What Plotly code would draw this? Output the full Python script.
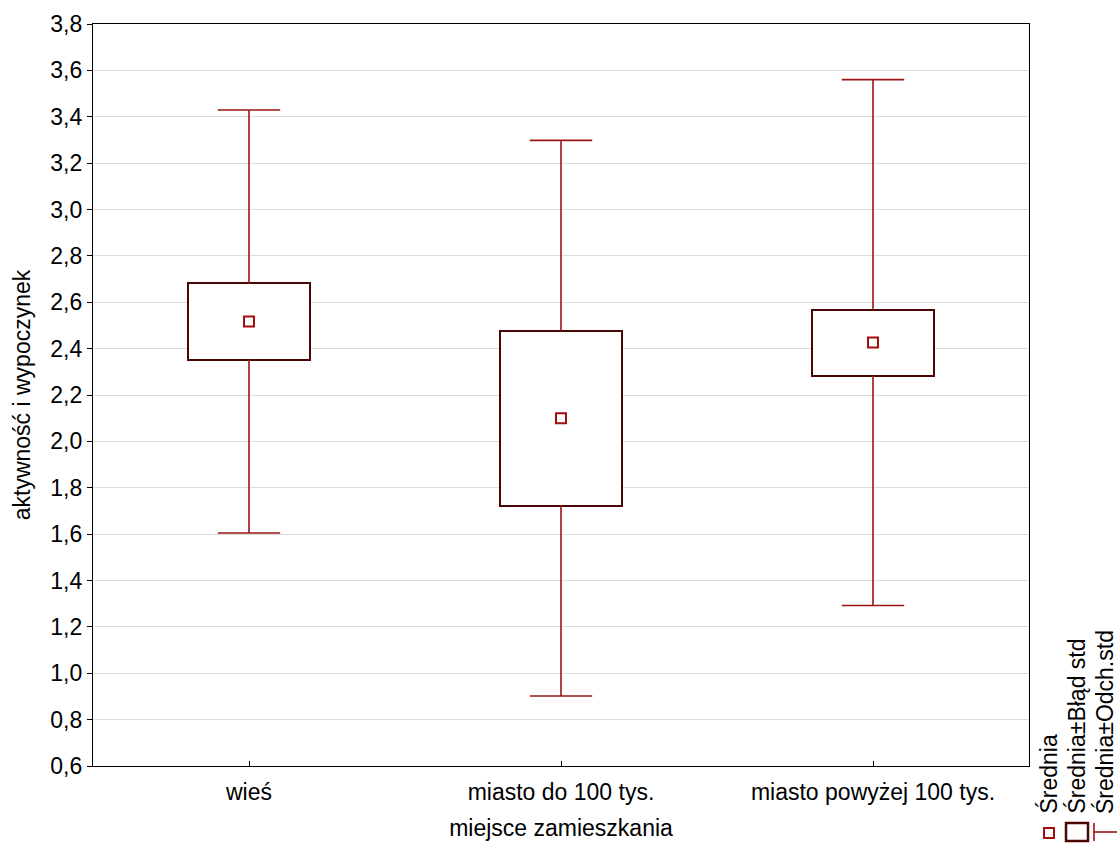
import plotly.graph_objects as go

categories = ["wieś", "miasto do 100 tys.", "miasto powyżej 100 tys."]
means = [2.517, 2.100, 2.426]
std_err = [0.164, 0.377, 0.142]
std_dev = [0.912, 1.198, 1.134]

y_ticks = [0.6, 0.8, 1.0, 1.2, 1.4, 1.6, 1.8, 2.0, 2.2, 2.4, 2.6, 2.8, 3.0, 3.2, 3.4, 3.6, 3.8]

FONT = "Liberation Sans, Arial, sans-serif"
FS = 23
WHISK = "#9a1515"
BOXC = "#4a0505"
MEANC = "#a30d0d"

idx = list(range(len(categories)))
cap = 0.1
box_w = 0.394

# whisker segments (outside the box) with caps
wx, wy = [], []
for i, m, se, sd in zip(idx, means, std_err, std_dev):
    wx += [i, i, None, i - cap, i + cap, None]
    wy += [m + se, m + sd, None, m + sd, m + sd, None]
    wx += [i, i, None, i - cap, i + cap, None]
    wy += [m - se, m - sd, None, m - sd, m - sd, None]

fig = go.Figure()

fig.add_trace(go.Bar(
    x=idx,
    y=[2 * se for se in std_err],
    base=[m - se for m, se in zip(means, std_err)],
    width=box_w,
    marker=dict(color="white", line=dict(color=BOXC, width=2)),
    showlegend=False, hoverinfo="skip",
))

fig.add_trace(go.Scatter(
    x=wx, y=wy, mode="lines",
    line=dict(color=WHISK, width=1.6),
    showlegend=False, hoverinfo="skip",
))

fig.add_trace(go.Scatter(
    x=idx, y=means, mode="markers",
    marker=dict(symbol="square", size=10, color="white",
                line=dict(color=MEANC, width=2)),
    showlegend=False,
))

W, H = 1117, 843
pl_l, pl_r, pl_t, pl_b = 93, 1029, 24, 766

def px_x(p):
    return (p - pl_l) / (pl_r - pl_l)

def px_y(p):
    return (pl_b - p) / (pl_b - pl_t)

# custom vertical legend (bottom right)
legend_items = ["Średnia", "Średnia±Błąd std", "Średnia±Odch.std"]
leg_x_px = [1048, 1076, 1104]

annotations = []
for txt, xp in zip(legend_items, leg_x_px):
    annotations.append(dict(
        text=txt, textangle=-90, xref="paper", yref="paper",
        x=px_x(xp), y=px_y(816), xanchor="center", yanchor="bottom",
        showarrow=False, font=dict(family=FONT, size=FS, color="black"),
    ))

shapes = [
    dict(type="rect", xref="paper", yref="paper",
         x0=px_x(1044), x1=px_x(1054), y0=px_y(838), y1=px_y(828),
         line=dict(color=MEANC, width=2), fillcolor="white"),
    dict(type="rect", xref="paper", yref="paper",
         x0=px_x(1066), x1=px_x(1088), y0=px_y(841), y1=px_y(823),
         line=dict(color=BOXC, width=2.5), fillcolor="white"),
    dict(type="line", xref="paper", yref="paper",
         x0=px_x(1094), x1=px_x(1094), y0=px_y(841), y1=px_y(823),
         line=dict(color=WHISK, width=1.6)),
    dict(type="line", xref="paper", yref="paper",
         x0=px_x(1094), x1=px_x(1117), y0=px_y(832), y1=px_y(832),
         line=dict(color=WHISK, width=1.6)),
]

fig.update_layout(
    width=W, height=H,
    margin=dict(l=pl_l, r=W - pl_r, t=pl_t, b=H - pl_b, autoexpand=False),
    paper_bgcolor="white", plot_bgcolor="white",
    font=dict(family=FONT, size=FS, color="black"),
    separators=", ",
    showlegend=False,
    annotations=annotations,
    shapes=shapes,
    bargap=0,
)

fig.update_xaxes(
    range=[-0.5, 2.5], automargin=False,
    tickmode="array", tickvals=idx, ticktext=categories,
    ticks="inside", ticklen=5, tickcolor="black", tickwidth=1,
    showline=True, linecolor="black", linewidth=1.2, mirror=True,
    showgrid=False, zeroline=False,
    ticklabelstandoff=5,
    title=dict(text="miejsce zamieszkania", standoff=16,
               font=dict(family=FONT, size=FS)),
)

fig.update_yaxes(
    range=[0.6, 3.8], automargin=False,
    tickmode="array", tickvals=y_ticks, tickformat=".1f",
    ticks="outside", ticklen=5, tickcolor="black", tickwidth=1,
    showline=True, linecolor="black", linewidth=1.2, mirror=True,
    showgrid=True, gridcolor="#dcdcdc", gridwidth=1,
    zeroline=False,
    title=dict(text="aktywność i wypoczynek", standoff=13,
               font=dict(family=FONT, size=FS)),
)

fig.write_html(
    "out.html",
    config={"displayModeBar": False},
    post_script="document.documentElement.style.overflow='hidden';"
                "document.body.style.overflow='hidden';"
                "document.body.style.margin='0';",
)
